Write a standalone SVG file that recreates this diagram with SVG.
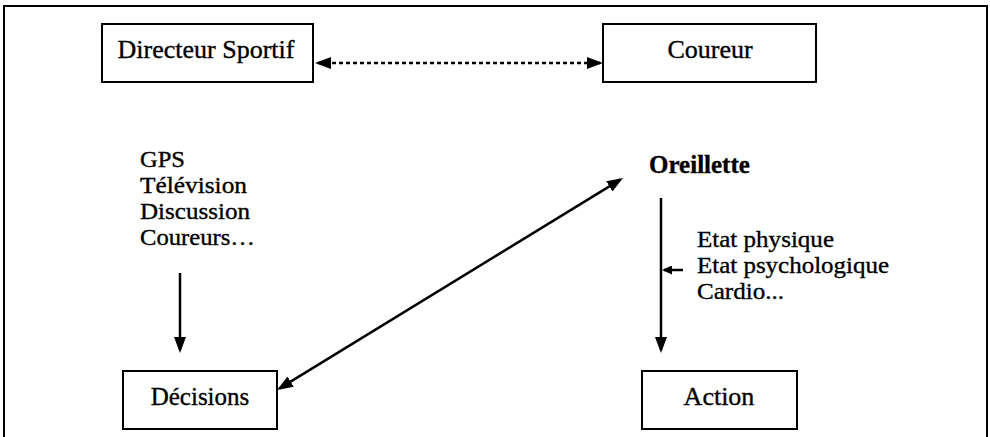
<svg xmlns="http://www.w3.org/2000/svg" width="990" height="437" viewBox="0 0 990 437">
<style>
.box{fill:#fff;stroke:#000;stroke-width:2}
.t{font-family:"Liberation Serif","Times New Roman",serif;font-size:25px;fill:#000;stroke:#000;stroke-width:0.35}
.l{font-size:23px}
.c{text-anchor:middle}
.b{font-weight:bold}
.ln{stroke:#000;stroke-width:2.5;fill:none}
</style>
<defs>
<marker id="arr" viewBox="0 0 16 12" refX="13" refY="6" markerWidth="16" markerHeight="12" markerUnits="userSpaceOnUse" orient="auto-start-reverse"><path d="M0,0 L16,6 L0,12 z" fill="#000"/></marker>
<marker id="arrs" viewBox="0 0 10 9" refX="8" refY="4.5" markerWidth="10" markerHeight="9" markerUnits="userSpaceOnUse" orient="auto"><path d="M0,0 L10,4.5 L0,9 z" fill="#000"/></marker>
</defs>
<rect width="990" height="437" fill="#fff"/>
<path d="M4,437 V6 H987 V437" fill="none" stroke="#000" stroke-width="2"/>
<g id="directeur"><rect class="box" x="102" y="24" width="211" height="58"/><text class="t c" x="206" y="58" style="font-size:26px">Directeur Sportif</text></g>
<g id="coureur"><rect class="box" x="603" y="24" width="213" height="58"/><text class="t c" x="710" y="58" style="font-size:26px">Coureur</text></g>
<g id="sources"><text class="t l" x="140" y="167" textLength="45" lengthAdjust="spacingAndGlyphs">GPS</text><text class="t l" x="140" y="193" textLength="107" lengthAdjust="spacingAndGlyphs">Télévision</text><text class="t l" x="140" y="219" textLength="110" lengthAdjust="spacingAndGlyphs">Discussion</text><text class="t l" x="140" y="245" textLength="115" lengthAdjust="spacingAndGlyphs">Coureurs…</text></g>
<g id="oreillette"><text class="t b" x="649" y="173">Oreillette</text></g>
<g id="etats"><text class="t l" x="697" y="247" textLength="137" lengthAdjust="spacingAndGlyphs">Etat physique</text><text class="t l" x="697" y="273" textLength="192" lengthAdjust="spacingAndGlyphs">Etat psychologique</text><text class="t l" x="697" y="299" textLength="87" lengthAdjust="spacingAndGlyphs">Cardio...</text></g>
<g id="decisions"><rect class="box" x="123" y="371" width="154" height="58"/><text class="t c" x="200" y="405">Décisions</text></g>
<g id="action"><rect class="box" x="642" y="371" width="155" height="58"/><text class="t c" x="719" y="405" style="font-size:26px">Action</text></g>
<g id="connectors">
<line class="ln" x1="318" y1="63" x2="600" y2="63" stroke-dasharray="4 3" marker-start="url(#arr)" marker-end="url(#arr)"/>
<line class="ln" x1="180" y1="273" x2="180" y2="350" marker-end="url(#arr)"/>
<line class="ln" x1="661" y1="198" x2="661" y2="350" marker-end="url(#arr)"/>
<line class="ln" x1="279.6" y1="388.4" x2="620.4" y2="179.6" marker-start="url(#arr)" marker-end="url(#arr)"/>
<line class="ln" x1="683" y1="270" x2="664" y2="270" stroke-width="2" marker-end="url(#arrs)"/>
</g>
</svg>
